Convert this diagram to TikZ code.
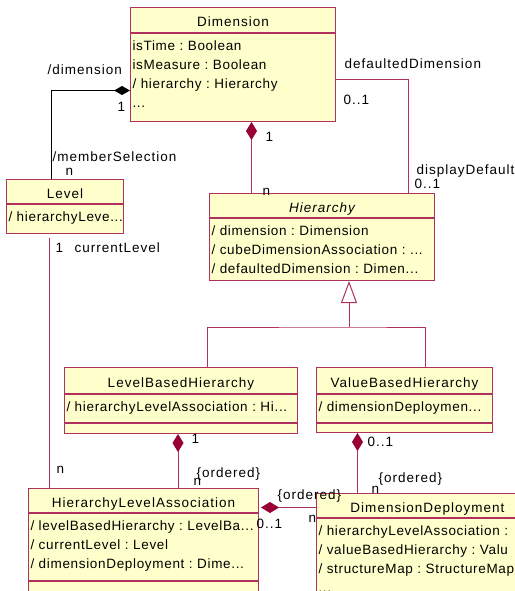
\documentclass[tikz,border=0pt]{standalone}
\usepackage{fontspec}
\setmainfont{Liberation Sans}[LetterSpace=5]
\newfontfamily\widefont{Liberation Sans}[LetterSpace=7.5]
\usetikzlibrary{positioning,arrows.meta}
\definecolor{umlline}{RGB}{176,48,96}
\definecolor{umlfill}{RGB}{255,255,204}
\definecolor{umldiam}{RGB}{153,0,51}

\begin{document}
\begin{tikzpicture}[x=1bp, y=-1bp, line width=1bp, font=\fontsize{13.5bp}{19bp}\selectfont,
                    clsname/.style={draw=umlline,fill=umlfill,inner sep=0pt,text height=13bp,text depth=0pt,font=\fontsize{13.5bp}{19bp}\widefont},
                    attrs/.style={draw=umlline,fill=umlfill,inner xsep=2bp,inner ysep=0pt,align=left,text height=17bp,text depth=#1},
                    spare/.style={draw=umlline,fill=umlfill,inner sep=0pt,minimum height=#1},
                    lbl/.style={inner sep=0pt,anchor=base west,font=\fontsize{13.5bp}{19bp}\widefont},
                    assoc/.style={draw=umlline},
                    comp/.style={draw=umlline,{Diamond[length=18bp,width=11bp,color=umldiam]}-},
                    blackcomp/.style={draw=black,{Diamond[length=16bp,width=9bp]}-}]

  \useasboundingbox (0,0) rectangle (515,591);
  \clip (0,0) rectangle (515,591);

  \node[clsname, minimum width=205bp, minimum height=25bp, anchor=north west] (dim) at (130,7) {Dimension};
  \node[attrs=71bp, text width=201bp, below=0pt of dim] (dima) {isTime~:~Boolean\\isMeasure~:~Boolean\\/~hierarchy~:~Hierarchy\\...};
  \node[clsname, minimum width=117bp, minimum height=24bp, anchor=north west] (lvl) at (6,179) {Level};
  \node[attrs=12bp, text width=113bp, below=0pt of lvl] (lvla) {/~hierarchyLeve...};
  \node[clsname, minimum width=225bp, minimum height=24bp, anchor=north west] (hier) at (209,193) {\itshape Hierarchy};
  \node[attrs=45bp, text width=221bp, below=0pt of hier] (hiera) {/~dimension~:~Dimension\\/~cubeDimensionAssociation~:~...\\/~defaultedDimension~:~Dimen...};
  \node[clsname, minimum width=233bp, minimum height=26bp, anchor=north west] (lbh) at (64,367) {LevelBasedHierarchy};
  \node[attrs=11bp, text width=229bp, below=0pt of lbh] (lbha) {/~hierarchyLevelAssociation~:~Hi...};
  \node[spare=10bp, minimum width=233bp, below=0pt of lbha] (lbhe) {};
  \node[clsname, minimum width=176bp, minimum height=26bp, anchor=north west] (vbh) at (316,367) {ValueBasedHierarchy};
  \node[attrs=11bp, text width=172bp, below=0pt of vbh] (vbha) {/~dimensionDeploymen...};
  \node[spare=9bp, minimum width=176bp, below=0pt of vbha] (vbhe) {};
  \node[clsname, minimum width=230bp, minimum height=24bp, anchor=north west] (hla) at (28,488) {HierarchyLevelAssociation};
  \node[attrs=50bp, text width=226bp, below=0pt of hla] (hlaa) {/~levelBasedHierarchy~:~LevelBa...\\/~currentLevel~:~Level\\/~dimensionDeployment~:~Dime...};
  \node[spare=30bp, minimum width=230bp, below=0pt of hlaa] (hlae) {};
  \node[clsname, minimum width=222bp, minimum height=24bp, anchor=north west] (dd) at (316,493) {DimensionDeployment};
  \node[attrs=76bp, text width=218bp, below=0pt of dd] (dda) {/~hierarchyLevelAssociation~:\\/~valueBasedHierarchy~:~Valu\\/~structureMap~:~StructureMap\\...};

  \coordinate (gen) at (349,327);

  \draw[blackcomp] ([yshift=-13bp]dima.west) -| ([xshift=-13.5bp]lvl.north);
  \draw[comp] ([xshift=18.5bp]dima.south) -- ([xshift=18.5bp]dima.south |- hier.north);
  \draw[assoc] ([yshift=-2bp]dima.east) -| ([xshift=86.5bp]hier.north);
  \draw[assoc, shorten <=4bp] ([xshift=-15.5bp]lvla.south) -- ([xshift=-15.5bp]lvla.south |- hla.north);
  \draw[assoc] ([xshift=26.5bp]lbh.north) |- (gen) -| ([xshift=21bp]vbh.north);
  \draw[assoc, -{Triangle[open,length=22bp,width=16bp,fill=white]}] (gen) -- (gen |- hiera.south);
  \draw[comp] ([xshift=-3bp]lbhe.south) -- ([xshift=-3bp]lbhe.south |- hla.north);
  \draw[comp] ([xshift=-47bp]vbhe.south) -- ([xshift=-47bp]vbhe.south |- dd.north);
  \draw[comp, shorten <=2bp] ([yshift=-7bp]hla.east) -- ([yshift=-7bp]hla.east -| dd.west);

  \node[lbl] (n1) at (47,75) {/dimension};
  \node[lbl] (n2) at (117,112) {1};
  \node[lbl] (n3) at (52,162) {/memberSelection};
  \node[lbl] (n4) at (65,176) {n};
  \node[lbl] (n5) at (344,69) {defaultedDimension};
  \node[lbl] (n6) at (343,105) {0..1};
  \node[lbl] (n7) at (265,142) {1};
  \node[lbl] (n8) at (262,195) {n};
  \node[lbl] (n9) at (416,175) {displayDefault};
  \node[lbl] (n10) at (414,188) {0..1};
  \node[lbl] (n11) at (55,252) {1};
  \node[lbl] (n12) at (74,252) {currentLevel};
  \node[lbl] (n13) at (56,473) {n};
  \node[lbl] (n14) at (191,443) {1};
  \node[lbl] (n15) at (196,477) {\{ordered\}};
  \node[lbl] (n16) at (193,485) {n};
  \node[lbl] (n17) at (367,446) {0..1};
  \node[lbl] (n18) at (378,482) {\{ordered\}};
  \node[lbl] (n19) at (371,493) {n};
  \node[lbl] (n20) at (277,499) {\{ordered\}};
  \node[lbl] (n21) at (256,528) {0..1};
  \node[lbl] (n22) at (308,522) {n};

\end{tikzpicture}
\end{document}
